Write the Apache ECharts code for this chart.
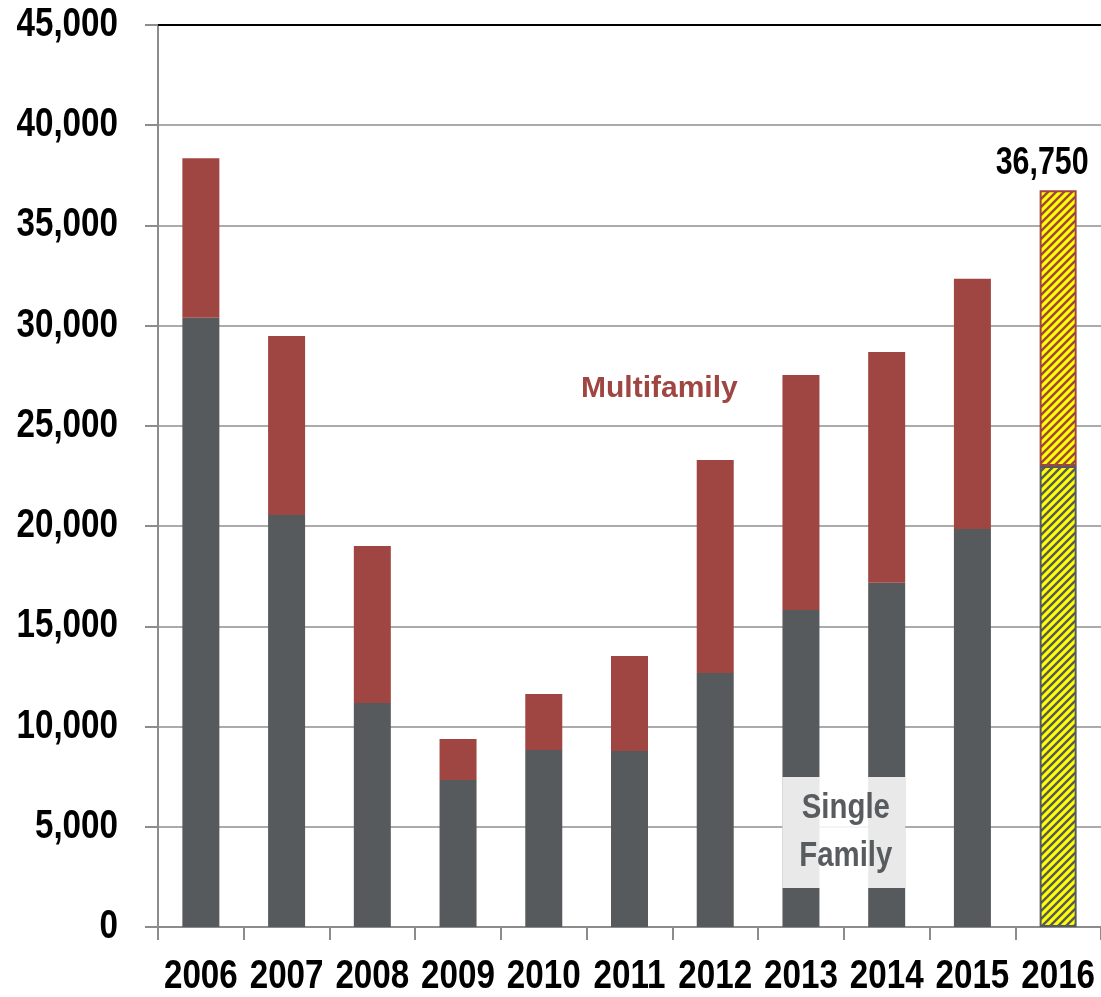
<!DOCTYPE html>
<html><head><meta charset="utf-8">
<script src="https://cdn.jsdelivr.net/npm/echarts@6/dist/echarts.min.js"></script>
<style>html,body{margin:0;padding:0;background:#fff}#c{width:1101px;height:997px}</style>
</head><body><div id="c"></div>
<script>
const years = ['2006','2007','2008','2009','2010','2011','2012','2013','2014','2015','2016'];
const singleFamily = [30400,20560,11180,7330,8830,8780,12670,15820,17170,19860,23000];
const multifamily  = [7950,8930,7830,2050,2800,4740,10630,11720,11520,12480,13750];
const total2016Label = '36,750';
const yTicks = [0,5000,10000,15000,20000,25000,30000,35000,40000,45000];
const yMin = 0, yMax = 45000, yStep = 5000;

const FONT = "'Liberation Sans',Arial,sans-serif";
const NARROW = 0.83;
const SF_COLOR = '#575a5d', MF_COLOR = '#9f4642';

function stripes(bg, fg){
  const c = document.createElement('canvas'); c.width = c.height = 8;
  const x = c.getContext('2d');
  x.fillStyle = bg; x.fillRect(0,0,8,8);
  x.strokeStyle = fg; x.lineWidth = 2.4; x.beginPath();
  x.moveTo(-2,10); x.lineTo(10,-2);
  x.moveTo(-2,2); x.lineTo(2,-2);
  x.moveTo(6,10); x.lineTo(10,6);
  x.stroke();
  return {image: c, repeat: 'repeat'};
}

const last = years.length - 1;
const sfData = singleFamily.map((v,i)=> i===last ? {value:v, itemStyle:{color:stripes('#ffff00', SF_COLOR), borderColor:SF_COLOR, borderWidth:2}} : v);
const mfData = multifamily.map((v,i)=> i===last ? {value:v, itemStyle:{color:stripes('#ffff00', MF_COLOR), borderColor:MF_COLOR, borderWidth:2}} : v);

const chart = echarts.init(document.getElementById('c'), null, {renderer:'canvas'});
chart.setOption({
  animation:false,
  backgroundColor:'#fff',
  grid:{left:158, right:0, top:25, bottom:70, containLabel:false, outerBoundsMode:'none'},
  xAxis:[{
    type:'category', data:years,
    axisLine:{show:true, lineStyle:{color:'#8c8c8c', width:2}},
    axisTick:{show:true, length:13, alignWithLabel:false, lineStyle:{color:'#8c8c8c', width:2}},
    axisLabel:{show:false}
  },{
    type:'category', data:years, position:'top',
    axisLine:{show:true, lineStyle:{color:'#000', width:2}},
    axisTick:{show:false}, axisLabel:{show:false}
  }],
  yAxis:{
    type:'value', min:yMin, max:yMax, interval:yStep,
    axisLine:{show:true, lineStyle:{color:'#8c8c8c', width:2}},
    axisTick:{show:true, length:13, lineStyle:{color:'#8c8c8c', width:2}},
    splitLine:{show:true, lineStyle:{color:'#ababab', width:2}},
    axisLabel:{show:false}
  },
  series:[
    {name:'Single Family', type:'bar', stack:'a', barWidth:37, data:sfData, itemStyle:{color:SF_COLOR}},
    {name:'Multifamily', type:'bar', stack:'a', barWidth:37, data:mfData, itemStyle:{color:MF_COLOR}}
  ]
});

const px = (cat, val) => chart.convertToPixel({gridIndex:0}, [cat, val]);
const g = [];
// y tick labels (condensed bold)
yTicks.forEach(v => {
  const p = px(years[0], v);
  g.push({type:'text', x:118, y:p[1], scaleX:NARROW, z:50,
    style:{text:v.toLocaleString('en-US'), align:'right', verticalAlign:'middle', font:"bold 40px "+FONT, fill:'#000'}});
});
// x category labels
years.forEach(y => {
  const p = px(y, 0);
  g.push({type:'text', x:p[0], y:p[1]+50, scaleX:NARROW, z:50,
    style:{text:y, align:'center', verticalAlign:'middle', font:"bold 40px "+FONT, fill:'#000'}});
});
// total label above 2016
const topP = px(years[last], singleFamily[last] + multifamily[last]);
g.push({type:'text', x:topP[0]-16, y:topP[1]-27, scaleX:0.8, z:50,
  style:{text:total2016Label, align:'center', verticalAlign:'middle', font:"bold 38px "+FONT, fill:'#000'}});
// Single Family annotation box
const pA = px('2013', 7480), pB = px('2014', 1950);
const cx = (pA[0]+pB[0])/2;
g.push({type:'rect', z:100, shape:{x:cx-61.5, y:pA[1], width:123, height:pB[1]-pA[1]}, style:{fill:'rgba(255,255,255,0.87)'}});
g.push({type:'text', z:101, x:cx+2, y:(pA[1]+pB[1])/2, scaleX:0.84,
  style:{text:'Single\nFamily', align:'center', verticalAlign:'middle', lineHeight:48, font:"bold 35px "+FONT, fill:'#595c5f'}});
// Multifamily annotation
const pM = px('2011', 26850), pM2 = px('2012', 26850);
g.push({type:'text', z:101, x:(pM[0]+pM2[0])/2 - 13, y:pM[1], 
  style:{text:'Multifamily', align:'center', verticalAlign:'middle', font:"bold 30px "+FONT, fill:MF_COLOR}});
chart.setOption({graphic:g});
</script></body></html>
